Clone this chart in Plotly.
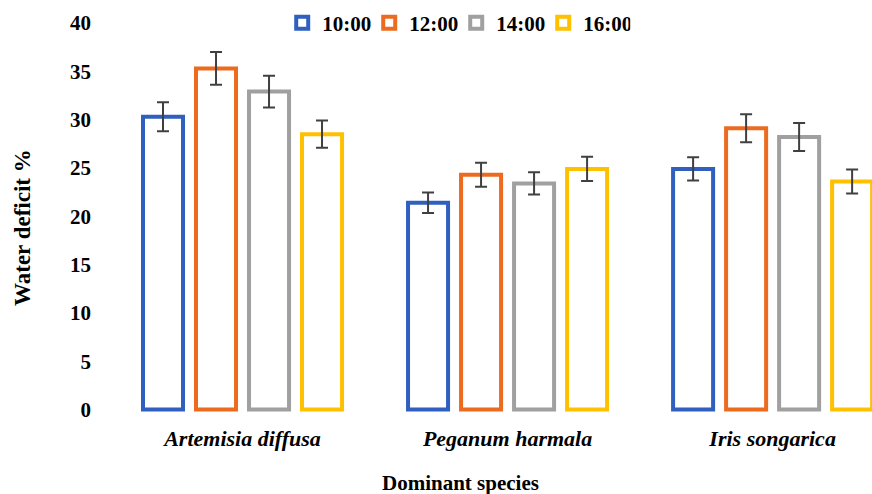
import plotly.graph_objects as go

species = ["Artemisia diffusa", "Peganum harmala", "Iris songarica"]
times = ["10:00", "12:00", "14:00", "16:00"]
colors = ["#2F5FBF", "#EC6B1F", "#A0A0A0", "#FFC000"]

v_1000 = [30.3, 21.4, 24.9]
v_1200 = [35.3, 24.3, 29.1]
v_1400 = [32.9, 23.4, 28.2]
v_1600 = [28.5, 24.9, 23.6]

e_1000 = [1.5, 1.05, 1.2]
e_1200 = [1.7, 1.25, 1.45]
e_1400 = [1.65, 1.15, 1.45]
e_1600 = [1.4, 1.25, 1.25]

values = [v_1000, v_1200, v_1400, v_1600]
errors = [e_1000, e_1200, e_1400, e_1600]

y_ticks = [0, 5, 10, 15, 20, 25, 30, 35, 40]

SERIF = "Liberation Serif, Times New Roman, serif"

fig = go.Figure()
for t, c, v, e in zip(times, colors, values, errors):
    fig.add_trace(go.Bar(
        name=t,
        x=species,
        y=v,
        marker=dict(color="white", line=dict(color=c, width=4)),
        error_y=dict(type="data", array=e, visible=True, color="#404040",
                     thickness=2, width=6),
    ))

fig.update_layout(
    width=872, height=494,
    margin=dict(l=110, r=0, t=23, b=82, autoexpand=False),
    paper_bgcolor="white", plot_bgcolor="white",
    barmode="group", bargap=0.2, bargroupgap=0.245,
    font=dict(family=SERIF, color="black"),
    showlegend=True,
    legend=dict(orientation="h", x=0.226, xanchor="left", y=1.0, yanchor="middle",
                font=dict(family=SERIF, size=21, color="black", weight="bold"),
                bgcolor="rgba(0,0,0,0)", entrywidth=42, itemclick=False),
    xaxis=dict(range=[-0.5, 2.375], showgrid=False, zeroline=False, showline=False,
               ticks="", ticklabelstandoff=11, automargin=False,
               tickfont=dict(family=SERIF, size=22, style="italic", weight="bold", color="black")),
    yaxis=dict(range=[-0.25, 40], tickvals=y_ticks, showgrid=False, zeroline=False,
               showline=False, ticks="", ticklabelstandoff=18, automargin=False,
               tickfont=dict(family=SERIF, size=21, weight="bold", color="black")),
    annotations=[
        dict(text="Dominant species", xref="paper", yref="paper",
             x=(460 - 110) / 762, y=(412 - 483) / 389, xanchor="center", yanchor="middle",
             showarrow=False, font=dict(family=SERIF, size=21, weight="bold", color="black")),
        dict(text="Water deficit %", xref="paper", yref="paper", textangle=-90,
             x=(22 - 110) / 762, y=(412 - 228) / 389, xanchor="center", yanchor="middle",
             showarrow=False, font=dict(family=SERIF, size=23, weight="bold", color="black")),
    ],
)

fig.write_html("out.html", config={"displayModeBar": False},
               post_script="document.body.style.margin='0px';document.body.style.overflow='hidden';")
